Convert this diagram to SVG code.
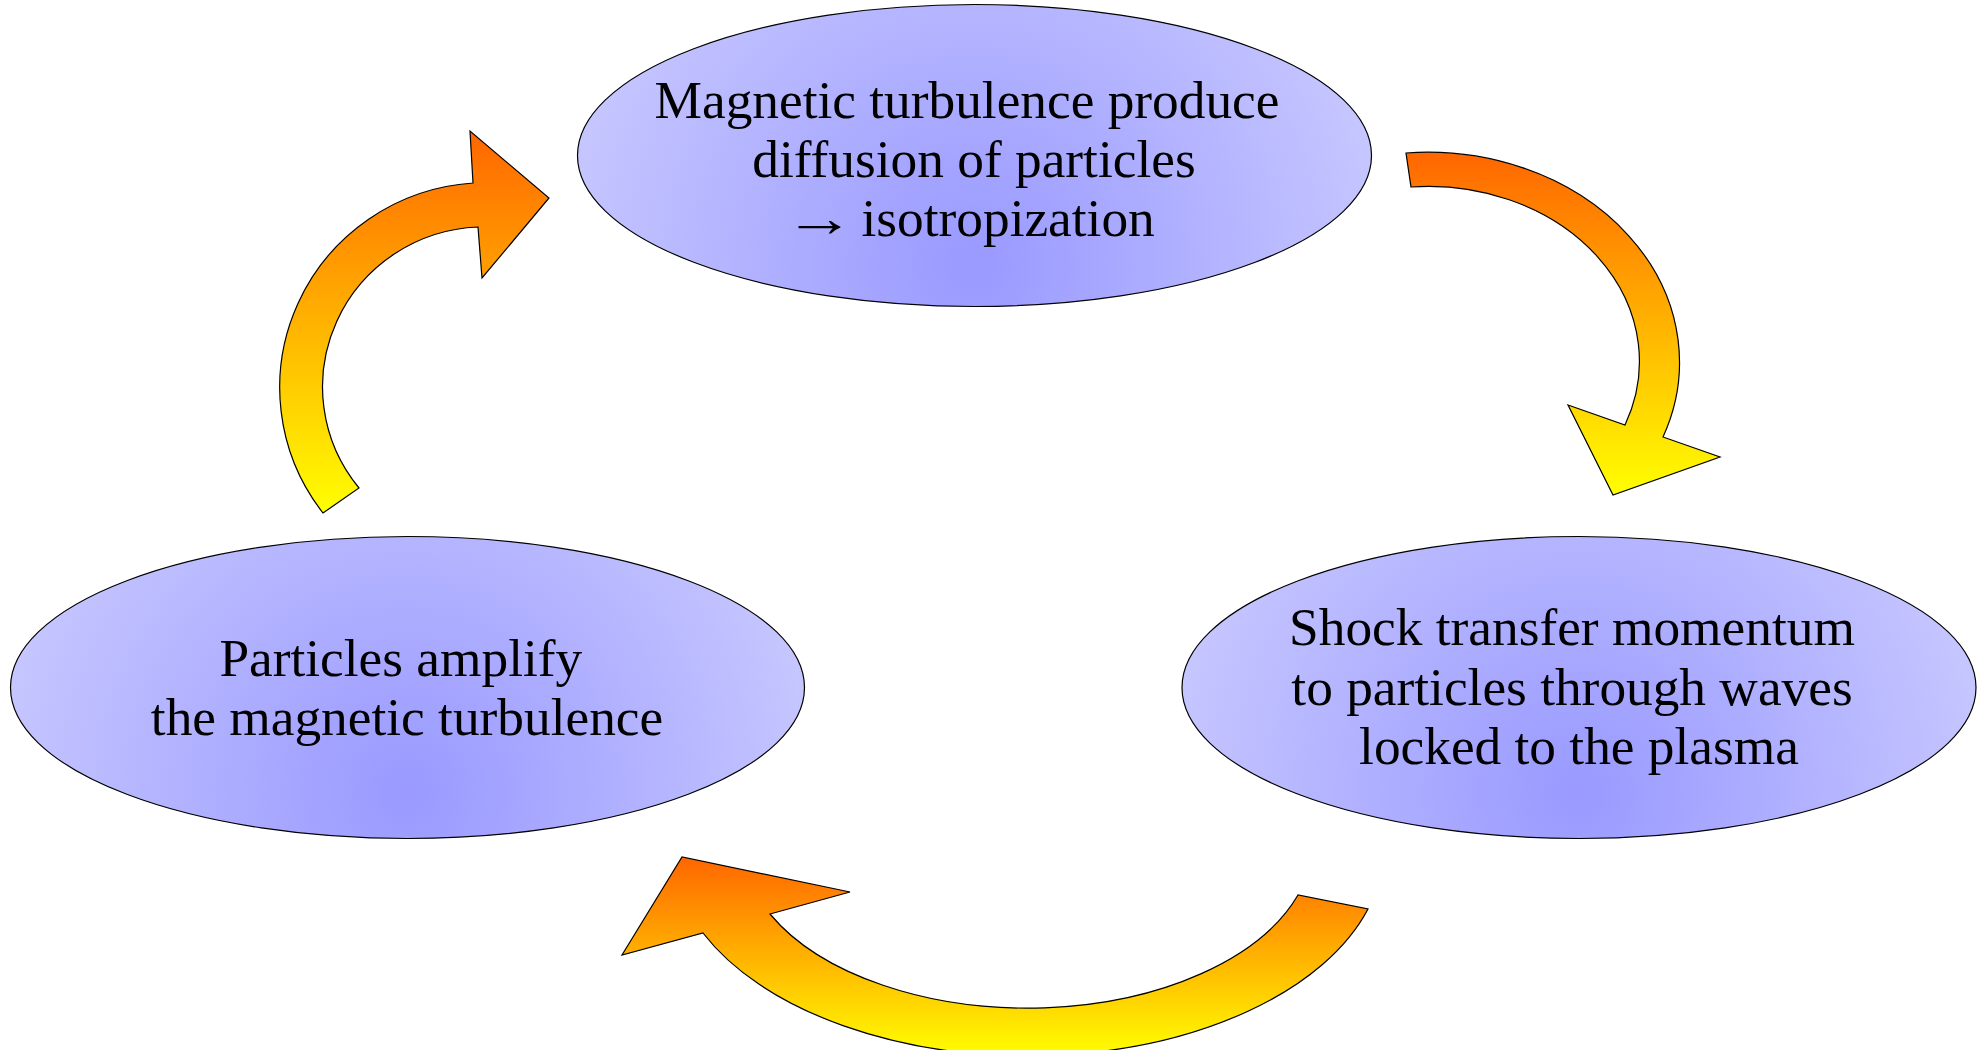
<svg xmlns="http://www.w3.org/2000/svg" width="1984" height="1050" viewBox="0 0 1984 1050">
  <defs>
    <linearGradient id="arrowGrad" x1="0" y1="0" x2="0" y2="1">
      <stop offset="0" stop-color="#ff6600"/>
      <stop offset="1" stop-color="#ffff00"/>
    </linearGradient>
    <radialGradient id="gTop" gradientUnits="userSpaceOnUse" cx="974" cy="266" r="472">
      <stop offset="0" stop-color="#9999ff"/>
      <stop offset="1" stop-color="#ccccff"/>
    </radialGradient>
    <radialGradient id="gLeft" gradientUnits="userSpaceOnUse" cx="407" cy="792" r="472">
      <stop offset="0" stop-color="#9999ff"/>
      <stop offset="1" stop-color="#ccccff"/>
    </radialGradient>
    <radialGradient id="gRight" gradientUnits="userSpaceOnUse" cx="1578" cy="792" r="472">
      <stop offset="0" stop-color="#9999ff"/>
      <stop offset="1" stop-color="#ccccff"/>
    </radialGradient>
  </defs>
  <style>
    .shape { stroke: #000000; stroke-width: 1.2; }
    .label { font-family: "Liberation Serif", "Times New Roman", serif; font-size: 53.33px; fill: #000000; text-anchor: middle; }
    .start { text-anchor: start; }
    .arrow { fill: url(#arrowGrad); stroke: #000000; stroke-width: 1.2; stroke-linejoin: miter; }
  </style>
  <rect width="1984" height="1050" fill="#ffffff"/>

  <g id="node-top">
    <ellipse class="shape" cx="974.5" cy="155.5" rx="397" ry="151" fill="url(#gTop)"/>
    <text class="label" x="967" y="117.5">Magnetic turbulence produce</text>
    <text class="label" x="974" y="176.5">diffusion of particles</text>
    <text class="label start" transform="translate(784 235.5) scale(1.33 1)" x="0" y="0">→</text>
    <text class="label start" x="861.5" y="235.5">isotropization</text>
  </g>

  <g id="node-left">
    <ellipse class="shape" cx="407.5" cy="687.5" rx="397" ry="151" fill="url(#gLeft)"/>
    <text class="label" x="400.8" y="675.5">Particles amplify</text>
    <text class="label" x="407" y="734.5">the magnetic turbulence</text>
  </g>

  <g id="node-right">
    <ellipse class="shape" cx="1579" cy="687.5" rx="397" ry="151" fill="url(#gRight)"/>
    <text class="label" x="1572" y="645">Shock transfer momentum</text>
    <text class="label" x="1572" y="704.5">to particles through waves</text>
    <text class="label" x="1579" y="764">locked to the plasma</text>
  </g>

  <g id="connectors">
    <path class="arrow" d="M 1406 153 A 252 210 0 0 1 1663 437 L 1720 457 L 1613 495 L 1568 405 L 1625 425 A 211 175 0 0 0 1411 187 Z"/>
    <path class="arrow" d="M 1368 909 A 356 208 0 0 1 703 933 L 622 955 L 682 857 L 850 892 L 770 914 A 286 167 0 0 0 1298 895 Z"/>
    <path class="arrow" d="M 323 513 A 207 205 0 0 1 473 183 L 470 131 L 549 198 L 482 278 L 478 227 A 162 160 0 0 0 359 488 Z"/>
  </g>
</svg>
